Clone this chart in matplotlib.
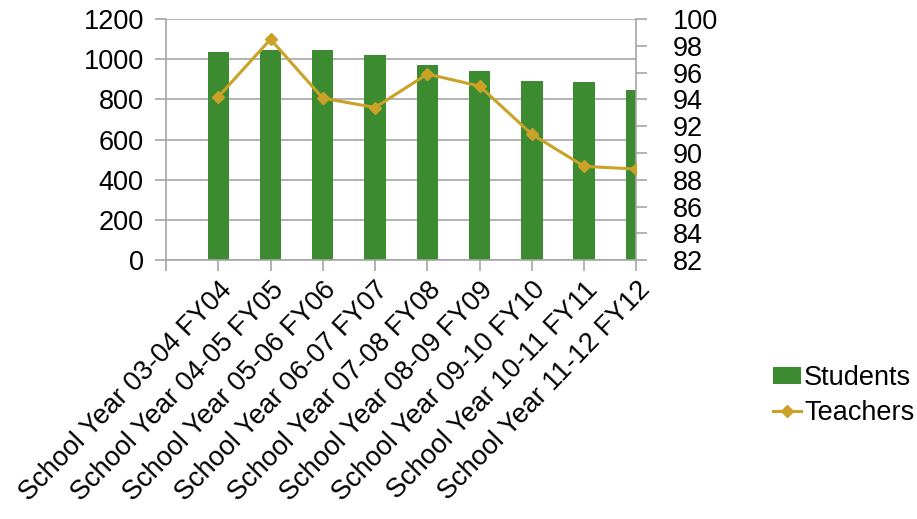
"""Students vs teachers by school year, combo bar/line chart."""

import matplotlib
matplotlib.use("Agg")
import matplotlib.pyplot as plt
import numpy as np

years = [
    "School Year 03-04 FY04",
    "School Year 04-05 FY05",
    "School Year 05-06 FY06",
    "School Year 06-07 FY07",
    "School Year 07-08 FY08",
    "School Year 08-09 FY09",
    "School Year 09-10 FY10",
    "School Year 10-11 FY11",
    "School Year 11-12 FY12",
]
students = [1035, 1047, 1049, 1022, 971, 944, 891, 888, 849]
teachers = [94.2, 98.5, 94.1, 93.4, 95.9, 95.0, 91.4, 89.0, 88.8]

plt.rcParams["font.family"] = ["Liberation Sans", "DejaVu Sans"]
plt.rcParams["font.size"] = 19.5

green = "#3D8B30"
gold = "#C9A227"
grid_grey = "#A6A6A6"

fig = plt.figure(figsize=(9.17, 5.19), dpi=100)
ax = fig.add_axes([0.181, 0.499, 0.513, 0.464])
x = np.arange(1, len(years) + 1)

bars = ax.bar(x, students, width=0.41, color=green, zorder=2, label="Students")
ax.set_xlim(0, len(years))
ax.set_ylim(0, 1200)
ax.set_yticks(range(0, 1201, 200))
ax.yaxis.grid(True, color=grid_grey, linewidth=1.2, zorder=0)
ax.set_axisbelow(True)
ax.set_xticks(range(0, len(years) + 1))
ax.set_xticklabels([""] + years, rotation=46, ha="right", va="top",
                   rotation_mode="anchor")
ax.tick_params(axis="x", length=8, color=grid_grey, width=1.2, pad=4)
ax.tick_params(axis="y", length=8, color=grid_grey, width=1.2, pad=8)
for side in ["top", "right"]:
    ax.spines[side].set_visible(False)
for side in ["left", "bottom"]:
    ax.spines[side].set_color(grid_grey)
    ax.spines[side].set_linewidth(1.2)

ax2 = ax.twinx()
line, = ax2.plot(x, teachers, color=gold, linewidth=2.2, marker="D",
                 markersize=6.5, label="Teachers", zorder=3)
ax2.set_ylim(82, 100)
ax2.set_yticks(range(82, 101, 2))
ax2.tick_params(axis="y", length=8, color=grid_grey, width=1.2, pad=18)
for side in ["top", "left", "bottom"]:
    ax2.spines[side].set_visible(False)
ax2.spines["right"].set_color(grid_grey)
ax2.spines["right"].set_linewidth(1.2)

fig.legend([bars, line], ["Students", "Teachers"], loc="center left",
           bbox_to_anchor=(0.843, 0.238), frameon=False, handlelength=1.05,
           handleheight=0.6, handletextpad=0.1, labelspacing=0.35,
           borderaxespad=0, borderpad=0)

fig.savefig("out.png", dpi=100)
